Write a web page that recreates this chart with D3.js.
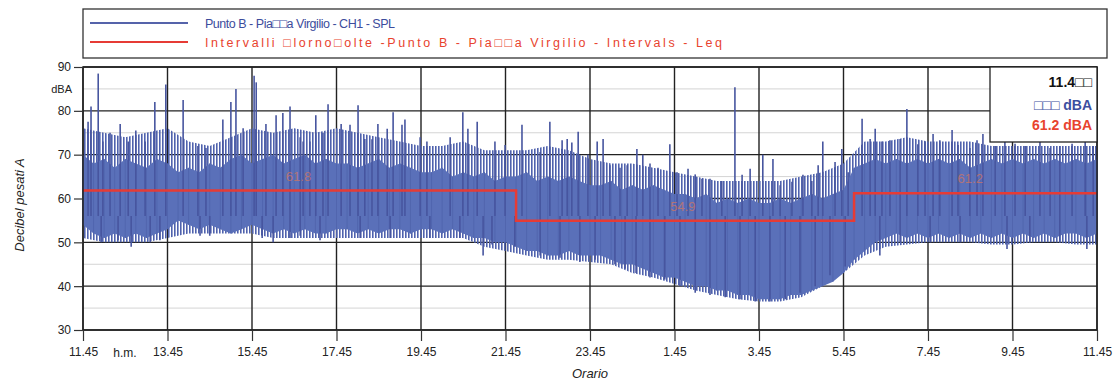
<!DOCTYPE html>
<html>
<head>
<meta charset="utf-8">
<script src="https://cdn.jsdelivr.net/npm/d3@7"></script>
<style>
  body { margin: 0; background: #fff; }
  text { font-family: "Liberation Sans", Arial, sans-serif; }
</style>
</head>
<body>
<svg id="chart" width="1117" height="384"></svg>
<script>
// time axis: hours elapsed since 11.45
const tickHours = [0, 2, 4, 6, 8, 10, 12, 14, 16, 18, 20, 22, 24];
const tickLabels = ["11.45", "13.45", "15.45", "17.45", "19.45", "21.45", "23.45", "1.45", "3.45", "5.45", "7.45", "9.45", "11.45"];
const yTicks = [30, 40, 50, 60, 70, 80, 90];
const yMinor = [35, 45, 55, 65, 75, 85];

// SPL dense band, read every 15 minutes (top and bottom of the filled band)
const envHigh = [70, 68, 69, 67, 69, 68, 67, 69, 68,
  66, 67, 66, 68, 67, 69, 70, 68,
  69, 70, 68, 69, 70, 68, 69, 68,
  68, 67, 68, 69, 67, 68, 67, 66,
  66, 67, 65, 66, 65, 66, 64, 65,
  65, 66, 64, 65, 64, 65, 64, 63,
  63, 64, 62, 63, 62, 63, 62, 61,
  61, 60, 61, 59, 60, 59, 60, 59,
  59, 60, 59, 60, 61, 60, 61, 62,
  67, 68, 69, 68, 69, 68, 69, 68,
  69, 68, 69, 67, 68, 69, 68, 69,
  68, 69, 68, 69, 68, 69, 68, 69];
const envLow = [54, 52, 51, 52, 51, 52, 51, 52, 53,
  55, 54, 53, 54, 53, 52, 53, 54,
  53, 52, 53, 52, 53, 52, 52, 53,
  53, 52, 53, 52, 53, 53, 52, 53,
  53, 52, 53, 52, 51, 51, 50, 50,
  49, 48, 48, 47, 47, 48, 47, 47,
  47, 46, 45, 45, 44, 43, 42, 42,
  41, 40, 40, 39, 39, 38, 38, 37,
  37, 37, 38, 38, 39, 40, 41, 43,
  46, 48, 50, 51, 52, 51, 52, 51,
  52, 51, 52, 51, 52, 51, 52, 51,
  52, 51, 52, 51, 52, 52, 51, 52];
const envTime = d3.range(0, 24.001, 0.25);

// zone of frequent short spikes, read every 30 minutes (upper reach, lower reach)
const spikeTop = [76, 75, 74, 75, 76,
  73, 72, 74, 76,
  75, 76, 75, 76,
  75, 74, 73, 72,
  72, 73, 71, 71,
  71, 72, 71, 69,
  68, 68, 67, 66,
  65, 64, 64, 64,
  64, 65, 66, 68,
  73, 73, 74, 73,
  73, 73, 72, 72,
  72, 72, 72, 72];
const spikeBottom = [51, 50, 50, 50, 51,
  52, 52, 52, 52,
  51, 51, 51, 51,
  51, 51, 51, 51,
  51, 51, 49, 48,
  47, 46, 46, 45.5,
  45, 43, 42, 40.5,
  39, 38, 37, 36.5,
  36.5, 37.5, 40, 43,
  47, 49, 49.5, 50,
  50, 50, 49.5, 49.5,
  50, 50, 49.5, 49.5];
const zoneTime = d3.range(0, 24.001, 0.5);

// upward peaks (hour, dBA)
const peakTime = [0.12, 0.19, 0.36, 0.47, 0.64, 0.88, 1.07, 1.25, 1.47, 1.70, 1.96, 2.37, 2.72, 2.91, 3.31, 3.50, 3.62, 3.79,
  4.05, 4.10, 4.33, 4.57, 4.73, 4.90, 5.14, 5.21, 5.37, 5.51, 5.68, 5.80, 6.11,
  6.32, 6.51, 6.67, 6.84, 6.98, 7.20, 7.34, 7.55, 7.62, 7.98, 8.14, 8.69, 8.99, 9.11, 9.33, 9.75, 9.99,
  10.39, 10.82, 11.05, 11.34, 11.46, 11.57, 11.72, 11.95, 12.17,
  12.31, 12.47, 12.71, 12.88, 13.11, 13.25, 13.42, 13.61, 13.89, 14.06, 14.32, 14.49, 14.65, 14.84, 15.12,
  15.43, 15.60, 15.79, 16.09, 16.33, 16.50, 16.78, 17.04, 17.25, 17.40, 17.51, 17.80, 17.96, 18.11,
  18.44, 18.63, 18.75, 18.91, 19.10, 19.34, 19.50, 19.76, 19.93, 20.12, 20.28, 20.57, 20.71, 20.99,
  21.16, 21.30, 21.59, 21.82, 22.06, 22.30, 22.65, 22.89, 23.12, 23.41, 23.72, 23.91];
const peakValue = [77.5, 81, 88.5, 73, 75, 77, 73, 75.5, 73, 82, 86, 82.5, 72, 71.5, 78, 82, 85, 76,
  88, 86.5, 77, 79, 79.5, 81, 74, 73, 73, 79, 75, 81.5, 77,
  76.8, 81.3, 73.6, 73.5, 77, 75.9, 79.7, 76.8, 78, 74, 73, 74, 79.7, 75.9, 77.5, 73, 72.2,
  76.8, 70.6, 77.5, 73.3, 73.6, 72.8, 75.2, 70, 73,
  73.6, 67.6, 67, 67.6, 71.3, 70, 68, 67, 72.4, 66, 66.8, 65.5, 64.5, 64.5, 64,
  85.4, 65.4, 66.8, 70, 69, 63, 63.8, 65.4, 64, 67.6, 73, 68.3, 71.3, 66,
  78.2, 73.6, 75.9, 73, 73.3, 73.6, 80.4, 72.4, 73, 74.7, 73.3, 75.6, 72.2, 71.5,
  73.3, 74.7, 72, 73, 72.5, 72, 73, 71.5, 72, 72.5, 73, 72];

// downward dips (hour, dBA)
const dipTime = [0.43, 0.83, 1.14, 1.59, 1.82, 2.77, 3.0, 4.24, 4.50, 4.90, 5.14, 5.61,
  6.56, 7.27, 8.21, 8.92, 9.47, 9.68, 10.22, 10.82, 11.29, 11.76, 12.12,
  12.59, 12.83, 13.09, 13.42, 13.77, 14.13, 14.49, 14.84, 15.20, 15.55, 15.91, 16.26, 16.62, 16.97, 17.33, 17.68, 18.04,
  18.86, 19.34, 20.05, 20.76, 21.87, 22.41, 23.12, 23.76];
const dipValue = [50, 50.5, 49, 50, 50.5, 51.5, 51.5, 51, 50, 51, 51.5, 50.5,
  51, 51, 51, 51, 47, 49.5, 49, 47, 46.5, 45.5, 46,
  45, 44, 43, 42, 41.5, 40, 38.5, 38, 37.5, 37, 36.5, 36.5, 37, 38.5, 40, 42.5, 44.5,
  47, 50, 50, 50, 48.5, 50, 50, 48.5];

// Leq intervals (giorno / notte)
const intStart = [0, 10.25, 18.25];
const intEnd = [10.25, 18.25, 24];
const intLeq = [61.8, 54.9, 61.2];
const intLabels = ["61.8", "54.9", "61.2"];

const svg = d3.select("#chart");
const x = d3.scaleLinear().domain([0, 24]).range([83, 1097]);
const y = d3.scaleLinear().domain([30, 90]).range([330, 67]);

// stripe pattern standing in for the packed short spikes
const pat = svg.append("defs").append("pattern")
  .attr("id", "spikes").attr("patternUnits", "userSpaceOnUse")
  .attr("width", 3).attr("height", 8);
pat.append("rect").attr("width", 1.6).attr("height", 8).style("fill", "#4f62ad");

// grid
svg.append("g").selectAll("line").data(yMinor).enter().append("line")
  .attr("x1", x(0)).attr("x2", x(24))
  .attr("y1", d => y(d)).attr("y2", d => y(d))
  .style("stroke", "#d4d4d4").style("stroke-width", 1);
svg.append("g").selectAll("line").data(yTicks).enter().append("line")
  .attr("x1", x(0)).attr("x2", x(24))
  .attr("y1", d => y(d)).attr("y2", d => y(d))
  .style("stroke", "#222").style("stroke-width", 1.4);
svg.append("g").selectAll("line").data(tickHours).enter().append("line")
  .attr("x1", d => x(d)).attr("x2", d => x(d))
  .attr("y1", y(90)).attr("y2", y(30))
  .style("stroke", "#222").style("stroke-width", 1.4);

// spike zone
const zone = zoneTime.map((t, i) => ({ t: t, lo: spikeBottom[i], hi: spikeTop[i] }));
svg.append("path").datum(zone)
  .attr("d", d3.area().x(d => x(d.t)).y0(d => y(d.lo)).y1(d => y(d.hi)))
  .style("fill", "url(#spikes)");

// SPL band
const band = envTime.map((t, i) => ({ t: t, lo: envLow[i], hi: envHigh[i] }));
svg.append("path").datum(band)
  .attr("d", d3.area().x(d => x(d.t)).y0(d => y(d.lo)).y1(d => y(d.hi)))
  .style("fill", "#5a70b9");
svg.append("g").selectAll("line").data(band).enter().append("line")
  .attr("x1", d => x(d.t)).attr("x2", d => x(d.t))
  .attr("y1", d => y(d.lo)).attr("y2", d => y(d.hi))
  .style("stroke", "#5165ae").style("stroke-width", 1);

// spikes
svg.append("g").selectAll("line").data(peakTime).enter().append("line")
  .attr("x1", d => x(d)).attr("x2", d => x(d))
  .attr("y1", y(56)).attr("y2", (d, i) => y(peakValue[i]))
  .style("stroke", "#47559f").style("stroke-width", 1.6);
svg.append("g").selectAll("line").data(dipTime).enter().append("line")
  .attr("x1", d => x(d)).attr("x2", d => x(d))
  .attr("y1", y(56)).attr("y2", (d, i) => y(dipValue[i]))
  .style("stroke", "#47559f").style("stroke-width", 1.6);

// Leq steps
const steps = intStart.map((s, i) => ({ t: s, v: intLeq[i] }));
steps.push({ t: intEnd[intEnd.length - 1], v: intLeq[intLeq.length - 1] });
svg.append("path").datum(steps)
  .attr("d", d3.line().x(d => x(d.t)).y(d => y(d.v)).curve(d3.curveStepAfter))
  .style("fill", "none").style("stroke", "#e63b35").style("stroke-width", 2.5);

const labelHour = [5.1, 14.2, 21.0];
svg.append("g").selectAll("text").data(intLabels).enter().append("text")
  .attr("x", (d, i) => x(labelHour[i])).attr("y", (d, i) => y(intLeq[i]) - 10)
  .attr("text-anchor", "middle")
  .style("font-size", "13px").style("fill", "#e9774f").style("opacity", 0.6)
  .text(d => d);

// frame
svg.append("rect").attr("x", x(0)).attr("y", y(90))
  .attr("width", x(24) - x(0)).attr("height", y(30) - y(90))
  .style("fill", "none").style("stroke", "#222").style("stroke-width", 1.5);

// axes
const yAxis = svg.append("g").attr("transform", `translate(${x(0)},0)`)
  .call(d3.axisLeft(y).tickValues(yTicks).tickSize(9).tickPadding(3));
const xAxis = svg.append("g").attr("transform", `translate(0,${y(30)})`)
  .call(d3.axisBottom(x).tickValues(tickHours).tickSize(11).tickPadding(6)
    .tickFormat((d, i) => tickLabels[i]));
[yAxis, xAxis].forEach(a => {
  a.select(".domain").remove();
  a.selectAll("line").style("stroke", "#333").style("stroke-width", 1.2);
  a.selectAll("text").style("font-size", "12px").style("fill", "#222")
    .style("font-family", "'Liberation Sans', Arial, sans-serif");
});

svg.append("text").attr("x", 72).attr("y", y(90) + 26).attr("text-anchor", "end")
  .style("font-size", "11px").style("fill", "#222").text("dBA");
svg.append("text").attr("x", 125).attr("y", y(30) + 27).attr("text-anchor", "middle")
  .style("font-size", "12px").style("fill", "#222").text("h.m.");

svg.append("text").attr("transform", "translate(24,205) rotate(-90)")
  .attr("text-anchor", "middle").style("font-size", "13px").style("font-style", "italic")
  .style("fill", "#222").text("Decibel pesati A");
svg.append("text").attr("x", x(12)).attr("y", 378).attr("text-anchor", "middle")
  .style("font-size", "13px").style("font-style", "italic").style("fill", "#222").text("Orario");

// legend
svg.append("rect").attr("x", 83).attr("y", 9).attr("width", 1024).attr("height", 49)
  .style("fill", "#fff").style("stroke", "#333").style("stroke-width", 1.3);
const legendText = ["Punto B - Pia\u25a1\u25a1a Virgilio - CH1 - SPL",
  "Intervalli \u25a1lorno\u25a1olte -Punto B - Pia\u25a1\u25a1a Virgilio - Intervals - Leq"];
const legendColor = ["#5563aa", "#e63b35"];
const legendTextColor = ["#3c4c9c", "#e8432e"];
const legendWidth = [190, 517];
legendText.forEach((t, i) => {
  const ly = 23 + i * 19;
  svg.append("line").attr("x1", 90).attr("x2", 188).attr("y1", ly).attr("y2", ly)
    .style("stroke", legendColor[i]).style("stroke-width", 2);
  svg.append("text").attr("x", 205).attr("y", ly + 4.5)
    .attr("textLength", legendWidth[i]).attr("lengthAdjust", "spacing")
    .style("font-size", "12.5px").style("fill", legendTextColor[i]).text(t);
});

// cursor box
svg.append("rect").attr("x", 990).attr("y", y(90)).attr("width", x(24) - 990).attr("height", 75)
  .style("fill", "#fff").style("stroke", "#222").style("stroke-width", 1.3);
const boxText = ["11.4\u25a1\u25a1", "\u25a1\u25a1\u25a1 dBA", "61.2 dBA"];
const boxColor = ["#111", "#3c4ea0", "#e8432e"];
const boxY = [87, 110, 130];
boxText.forEach((t, i) => {
  svg.append("text").attr("x", 1092).attr("y", boxY[i]).attr("text-anchor", "end")
    .style("font-size", "14px").style("font-weight", "bold").style("fill", boxColor[i]).text(t);
});
</script>
</body>
</html>
